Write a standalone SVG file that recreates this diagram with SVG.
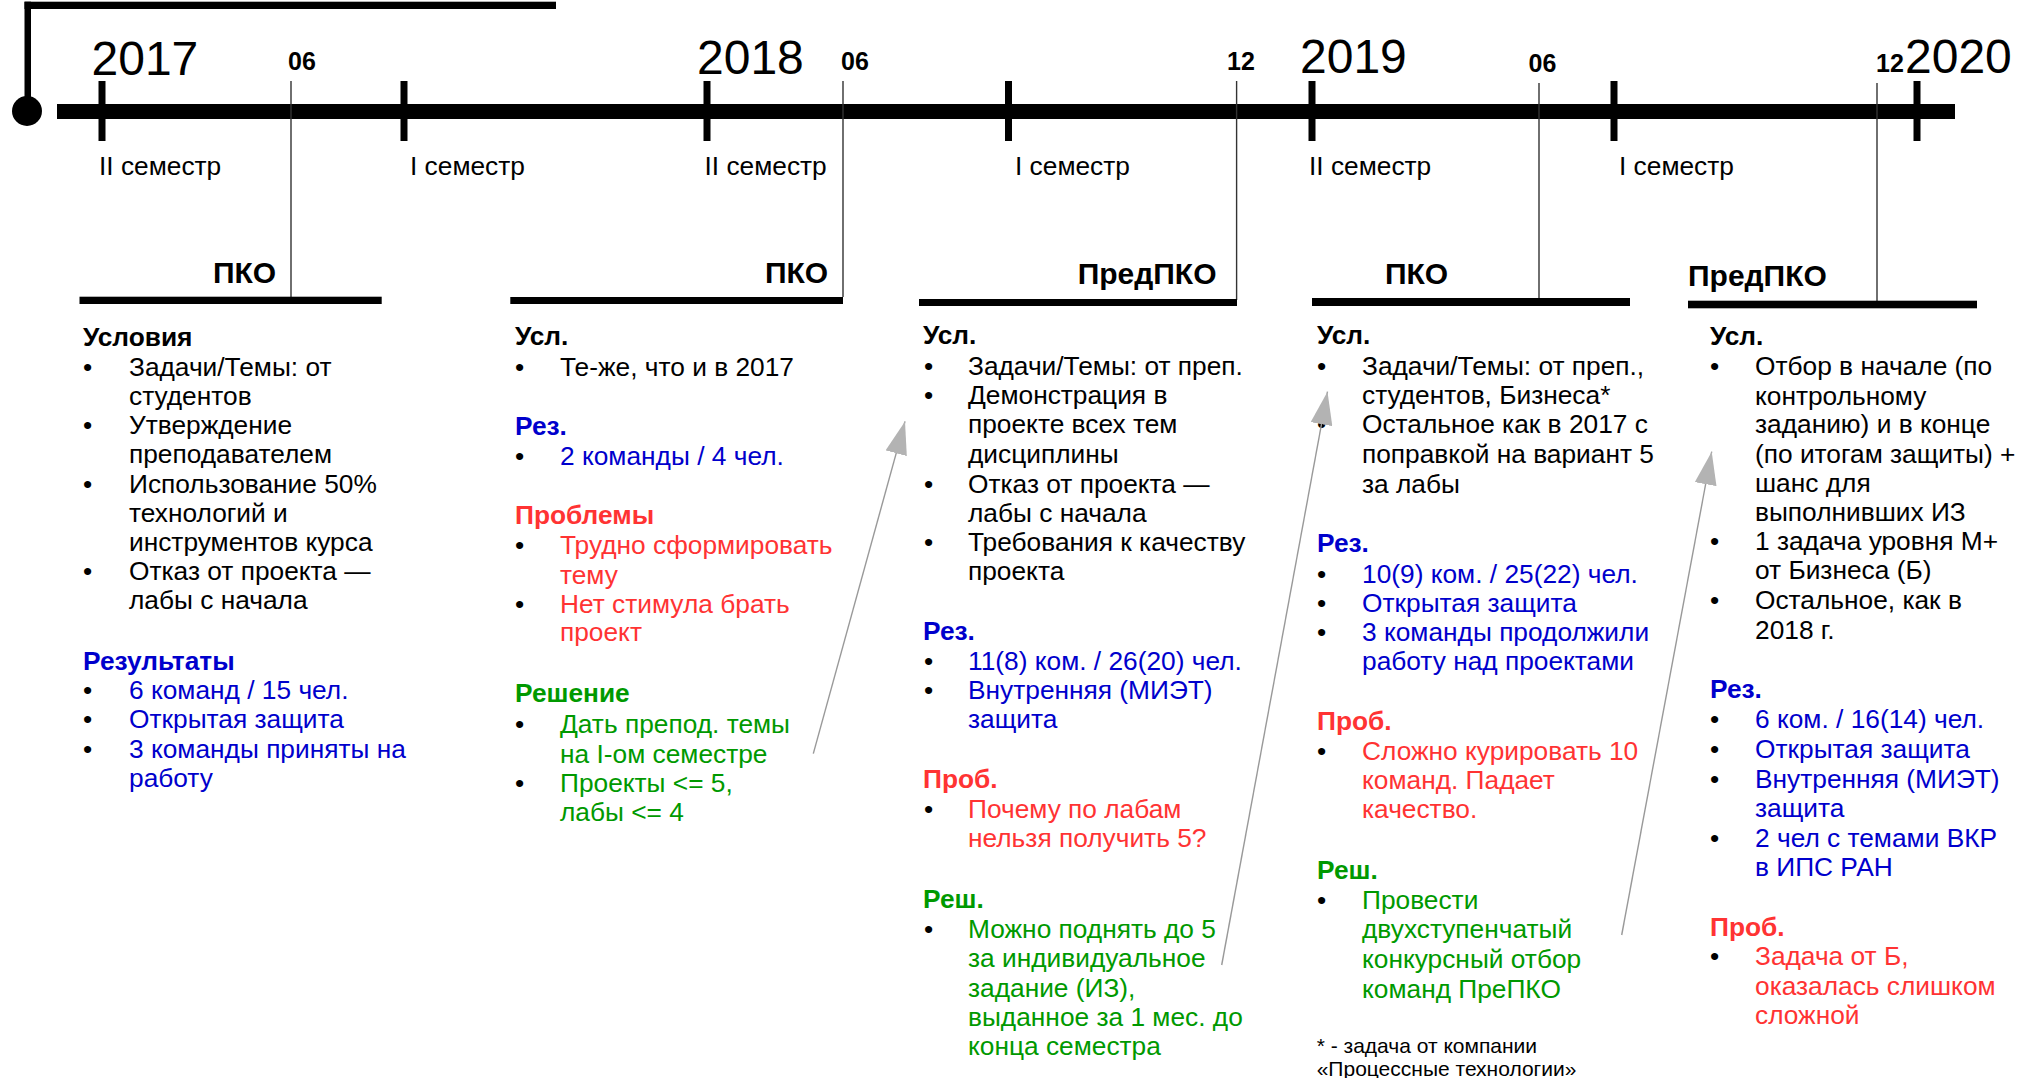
<svg xmlns="http://www.w3.org/2000/svg" width="2027" height="1078" viewBox="0 0 2027 1078">
<style>
text{font-family:"Liberation Sans",Arial,sans-serif;font-size:26.3px;fill:#000}
.b{font-weight:bold}
.yr{font-size:48px}
.mo{font-size:25px;font-weight:bold}
.sec{font-size:30px;font-weight:bold}
.bl{fill:#0000cc}
.r{fill:#ff3333}
.g{fill:#009900}
.fn{font-size:21px}
.tick{stroke:#000;stroke-width:7}
.mline{stroke:#333;stroke-width:1.4}
.bar{fill:#000}
.arr{stroke:#999;stroke-width:1.4;fill:none;marker-end:url(#ah)}
</style>
<defs>
<marker id="ah" markerUnits="userSpaceOnUse" markerWidth="34" markerHeight="22" refX="33" refY="11" orient="auto">
<path d="M0,0 L33,11 L0,22 z" fill="#b3b3b3"/>
</marker>
</defs>
<rect width="2027" height="1078" fill="#fff"/>

<g id="timeline">
<rect x="24.5" y="1.7" width="6.5" height="97" fill="#000"/>
<rect x="24.5" y="1.7" width="531.5" height="7.3" fill="#000"/>
<circle cx="27" cy="111" r="15" fill="#000"/>
<rect x="57" y="104" width="1898" height="15" fill="#000"/>
<line class="tick" x1="102" y1="81" x2="102" y2="141"/>
<line class="tick" x1="404" y1="81" x2="404" y2="141"/>
<line class="tick" x1="707" y1="81" x2="707" y2="141"/>
<line class="tick" x1="1008.5" y1="81" x2="1008.5" y2="141"/>
<line class="tick" x1="1312" y1="81" x2="1312" y2="141"/>
<line class="tick" x1="1614" y1="81" x2="1614" y2="141"/>
<line class="tick" x1="1917" y1="81" x2="1917" y2="141"/>
<text class="yr" x="91.5" y="75">2017</text>
<text class="yr" x="697" y="74">2018</text>
<text class="yr" x="1300" y="73">2019</text>
<text class="yr" x="1905" y="73">2020</text>
<text class="mo" x="288" y="70">06</text>
<text class="mo" x="841" y="70">06</text>
<text class="mo" x="1227" y="70">12</text>
<text class="mo" x="1528.6" y="71.7">06</text>
<text class="mo" x="1876" y="71.7">12</text>
<text x="99" y="175">II семестр</text>
<text x="410" y="175">I семестр</text>
<text x="704.5" y="175">II семестр</text>
<text x="1015" y="175">I семестр</text>
<text x="1309" y="175">II семестр</text>
<text x="1619" y="175">I семестр</text>
<line class="mline" x1="291" y1="81" x2="291" y2="297"/>
<line class="mline" x1="843" y1="81" x2="843" y2="297"/>
<line class="mline" x1="1236.6" y1="81" x2="1236.6" y2="300"/>
<line class="mline" x1="1539" y1="83" x2="1539" y2="298"/>
<line class="mline" x1="1877" y1="83" x2="1877" y2="301"/>
</g>

<g id="pko2017">
<rect class="bar" x="79.5" y="296.7" width="302.2" height="7.3"/>
<text class="sec" x="213" y="283">ПКО</text>
<text class="b" x="83" y="346">Условия</text>
<text x="83" y="376">•</text><text x="129" y="376">Задачи/Темы: от</text>
<text x="129" y="405">студентов</text>
<text x="83" y="434">•</text><text x="129" y="434">Утверждение</text>
<text x="129" y="463.3">преподавателем</text>
<text x="83" y="492.7">•</text><text x="129" y="492.7">Использование 50%</text>
<text x="129" y="521.7">технологий и</text>
<text x="129" y="550.7">инструментов курса</text>
<text x="83" y="580">•</text><text x="129" y="580">Отказ от проекта —</text>
<text x="129" y="609.3">лабы с начала</text>
<text class="b bl" x="83" y="670">Результаты</text>
<text x="83" y="699.3">•</text><text class="bl" x="129" y="699.3">6 команд / 15 чел.</text>
<text x="83" y="728.3">•</text><text class="bl" x="129" y="728.3">Открытая защита</text>
<text x="83" y="757.7">•</text><text class="bl" x="129" y="757.7">3 команды приняты на</text>
<text class="bl" x="129" y="786.7">работу</text>
</g>

<g id="pko2018">
<rect class="bar" x="510.3" y="297" width="332.7" height="7"/>
<text class="sec" x="765" y="283">ПКО</text>
<text class="b" x="515" y="345.4">Усл.</text>
<text x="515" y="375.7">•</text><text x="560" y="375.7">Те-же, что и в 2017</text>
<text class="b bl" x="515" y="435">Рез.</text>
<text x="515" y="465">•</text><text class="bl" x="560" y="465">2 команды / 4 чел.</text>
<text class="b r" x="515" y="524">Проблемы</text>
<text x="515" y="553.6">•</text><text class="r" x="560" y="553.6">Трудно сформировать</text>
<text class="r" x="560" y="584">тему</text>
<text x="515" y="612.5">•</text><text class="r" x="560" y="612.5">Нет стимула брать</text>
<text class="r" x="560" y="641">проект</text>
<text class="b g" x="515" y="701.8">Решение</text>
<text x="515" y="732.9">•</text><text class="g" x="560" y="732.9">Дать препод. темы</text>
<text class="g" x="560" y="762.5">на I-ом семестре</text>
<text x="515" y="792">•</text><text class="g" x="560" y="792">Проекты &lt;= 5,</text>
<text class="g" x="560" y="820.7">лабы &lt;= 4</text>
</g>

<g id="predpko2018">
<rect class="bar" x="919" y="299" width="318" height="7"/>
<text class="sec" x="1077.7" y="283.5">ПредПКО</text>
<text class="b" x="923" y="344.3">Усл.</text>
<text x="924" y="375">•</text><text x="968" y="375">Задачи/Темы: от преп.</text>
<text x="924" y="404">•</text><text x="968" y="404">Демонстрация в</text>
<text x="968" y="433">проекте всех тем</text>
<text x="968" y="462.7">дисциплины</text>
<text x="924" y="492.7">•</text><text x="968" y="492.7">Отказ от проекта —</text>
<text x="968" y="521.7">лабы с начала</text>
<text x="924" y="550.7">•</text><text x="968" y="550.7">Требования к качеству</text>
<text x="968" y="580">проекта</text>
<text class="b bl" x="923" y="640">Рез.</text>
<text x="924" y="670">•</text><text class="bl" x="968" y="670">11(8) ком. / 26(20) чел.</text>
<text x="924" y="699.3">•</text><text class="bl" x="968" y="699.3">Внутренняя (МИЭТ)</text>
<text class="bl" x="968" y="728.3">защита</text>
<text class="b r" x="923" y="788">Проб.</text>
<text x="924" y="818.3">•</text><text class="r" x="968" y="818.3">Почему по лабам</text>
<text class="r" x="968" y="847.3">нельзя получить 5?</text>
<text class="b g" x="923" y="908.3">Реш.</text>
<text x="924" y="938.3">•</text><text class="g" x="968" y="938.3">Можно поднять до 5</text>
<text class="g" x="968" y="967.3">за индивидуальное</text>
<text class="g" x="968" y="996.7">задание (ИЗ),</text>
<text class="g" x="968" y="1026">выданное за 1 мес. до</text>
<text class="g" x="968" y="1055">конца семестра</text>
</g>

<g id="pko2019">
<rect class="bar" x="1312" y="298" width="318" height="8"/>
<text class="sec" x="1385" y="283.5">ПКО</text>
<text class="b" x="1317" y="344.3">Усл.</text>
<text x="1317" y="375">•</text><text x="1362" y="375">Задачи/Темы: от преп.,</text>
<text x="1362" y="404">студентов, Бизнеса*</text>
<text x="1317" y="433.3">•</text><text x="1362" y="433.3">Остальное как в 2017 с</text>
<text x="1362" y="463.3">поправкой на вариант 5</text>
<text x="1362" y="492.7">за лабы</text>
<text class="b bl" x="1317" y="551.7">Рез.</text>
<text x="1317" y="582.7">•</text><text class="bl" x="1362" y="582.7">10(9) ком. / 25(22) чел.</text>
<text x="1317" y="611.7">•</text><text class="bl" x="1362" y="611.7">Открытая защита</text>
<text x="1317" y="640.7">•</text><text class="bl" x="1362" y="640.7">3 команды продолжили</text>
<text class="bl" x="1362" y="670">работу над проектами</text>
<text class="b r" x="1317" y="730">Проб.</text>
<text x="1317" y="760">•</text><text class="r" x="1362" y="760">Сложно курировать 10</text>
<text class="r" x="1362" y="789.3">команд. Падает</text>
<text class="r" x="1362" y="818.3">качество.</text>
<text class="b g" x="1317" y="879.3">Реш.</text>
<text x="1317" y="909.3">•</text><text class="g" x="1362" y="909.3">Провести</text>
<text class="g" x="1362" y="938.3">двухступенчатый</text>
<text class="g" x="1362" y="968.3">конкурсный отбор</text>
<text class="g" x="1362" y="997.7">команд ПреПКО</text>
<text class="fn" x="1316.7" y="1052.7">* - задача от компании</text>
<text class="fn" x="1316.7" y="1076">«Процессные технологии»</text>
</g>

<g id="predpko2019">
<rect class="bar" x="1688" y="300.7" width="289" height="7.6"/>
<text class="sec" x="1688" y="286">ПредПКО</text>
<text class="b" x="1710" y="345">Усл.</text>
<text x="1710" y="375">•</text><text x="1755" y="375">Отбор в начале (по</text>
<text x="1755" y="405">контрольному</text>
<text x="1755" y="433.3">заданию) и в конце</text>
<text x="1755" y="462.7">(по итогам защиты) +</text>
<text x="1755" y="491.7">шанс для</text>
<text x="1755" y="520.7">выполнивших ИЗ</text>
<text x="1710" y="550">•</text><text x="1755" y="550">1 задача уровня М+</text>
<text x="1755" y="579.3">от Бизнеса (Б)</text>
<text x="1710" y="609.3">•</text><text x="1755" y="609.3">Остальное, как в</text>
<text x="1755" y="639.3">2018 г.</text>
<text class="b bl" x="1710" y="698.3">Рез.</text>
<text x="1710" y="728.3">•</text><text class="bl" x="1755" y="728.3">6 ком. / 16(14) чел.</text>
<text x="1710" y="758">•</text><text class="bl" x="1755" y="758">Открытая защита</text>
<text x="1710" y="788.3">•</text><text class="bl" x="1755" y="788.3">Внутренняя (МИЭТ)</text>
<text class="bl" x="1755" y="817.3">защита</text>
<text x="1710" y="846.7">•</text><text class="bl" x="1755" y="846.7">2 чел с темами ВКР</text>
<text class="bl" x="1755" y="876">в ИПС РАН</text>
<text class="b r" x="1710" y="936">Проб.</text>
<text x="1710" y="965">•</text><text class="r" x="1755" y="965">Задача от Б,</text>
<text class="r" x="1755" y="995">оказалась слишком</text>
<text class="r" x="1755" y="1024">сложной</text>
</g>

<g id="connectors">
<line class="arr" x1="813.3" y1="753.6" x2="905" y2="421.4"/>
<line class="arr" x1="1221.7" y1="965" x2="1327.5" y2="391.7"/>
<line class="arr" x1="1621.7" y1="935" x2="1711.7" y2="451.7"/>
</g>
</svg>
